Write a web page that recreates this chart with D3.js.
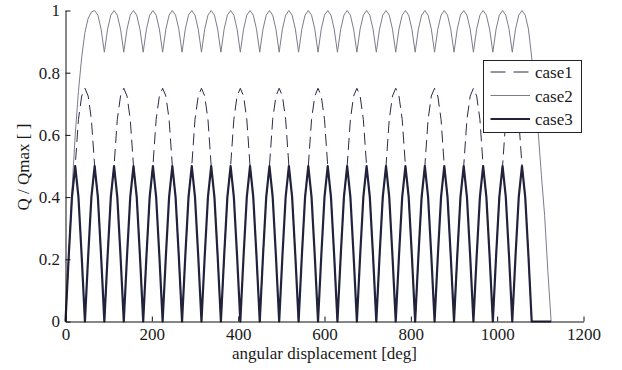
<!DOCTYPE html>
<html>
<head>
<meta charset="utf-8">
<script src="https://cdn.jsdelivr.net/npm/d3@7"></script>
<style>
  html, body { margin: 0; padding: 0; background: #fff; }
  svg { display: block; }
  text { font-family: "Liberation Serif", "Times New Roman", serif; }
</style>
</head>
<body>
<svg id="chart" width="622" height="370"></svg>
<script>
// ---- data ----
// sample positions along the x axis, degrees (every 7.5 deg from 0 to 1125)
const angles = d3.range(0, 1125 + 0.001, 7.5);

const case1 = [
  0,0.21,0.4,0.5,0.65,0.725,0.75,0.725,0.65,0.5,0.4,0.21,
  0,0.21,0.4,0.5,0.65,0.725,0.75,0.725,0.65,0.5,0.4,0.21,
  0,0.21,0.4,0.5,0.65,0.725,0.75,0.725,0.65,0.5,0.4,0.21,
  0,0.21,0.4,0.5,0.65,0.725,0.75,0.725,0.65,0.5,0.4,0.21,
  0,0.21,0.4,0.5,0.65,0.725,0.75,0.725,0.65,0.5,0.4,0.21,
  0,0.21,0.4,0.5,0.65,0.725,0.75,0.725,0.65,0.5,0.4,0.21,
  0,0.21,0.4,0.5,0.65,0.725,0.75,0.725,0.65,0.5,0.4,0.21,
  0,0.21,0.4,0.5,0.65,0.725,0.75,0.725,0.65,0.5,0.4,0.21,
  0,0.21,0.4,0.5,0.65,0.725,0.75,0.725,0.65,0.5,0.4,0.21,
  0,0.21,0.4,0.5,0.65,0.725,0.75,0.725,0.65,0.5,0.4,0.21,
  0,0.21,0.4,0.5,0.65,0.725,0.75,0.725,0.65,0.5,0.4,0.21,
  0,0.21,0.4,0.5,0.65,0.725,0.75,0.725,0.65,0.5,0.4,0.21,
  0,0,0,0,0,0,0
];

const case2 = [
  0,0.21,0.42,0.6,0.74,0.85,0.93,0.975,0.995,1,0.985,0.94,0.866,
  0.94,0.985,1,0.985,0.94,0.866,
  0.94,0.985,1,0.985,0.94,0.866,
  0.94,0.985,1,0.985,0.94,0.866,
  0.94,0.985,1,0.985,0.94,0.866,
  0.94,0.985,1,0.985,0.94,0.866,
  0.94,0.985,1,0.985,0.94,0.866,
  0.94,0.985,1,0.985,0.94,0.866,
  0.94,0.985,1,0.985,0.94,0.866,
  0.94,0.985,1,0.985,0.94,0.866,
  0.94,0.985,1,0.985,0.94,0.866,
  0.94,0.985,1,0.985,0.94,0.866,
  0.94,0.985,1,0.985,0.94,0.866,
  0.94,0.985,1,0.985,0.94,0.866,
  0.94,0.985,1,0.985,0.94,0.866,
  0.94,0.985,1,0.985,0.94,0.866,
  0.94,0.985,1,0.985,0.94,0.866,
  0.94,0.985,1,0.985,0.94,0.866,
  0.94,0.985,1,0.985,0.94,0.866,
  0.94,0.985,1,0.985,0.94,0.866,
  0.94,0.985,1,0.985,0.94,0.866,
  0.94,0.985,1,0.985,0.94,0.866,
  0.94,0.985,1,0.985,0.94,
  0.85,0.73,0.61,0.47,0.34,0.16,0
];

const case3 = [
  0,0.21,0.4,0.5,0.4,0.21, 0,0.21,0.4,0.5,0.4,0.21,
  0,0.21,0.4,0.5,0.4,0.21, 0,0.21,0.4,0.5,0.4,0.21,
  0,0.21,0.4,0.5,0.4,0.21, 0,0.21,0.4,0.5,0.4,0.21,
  0,0.21,0.4,0.5,0.4,0.21, 0,0.21,0.4,0.5,0.4,0.21,
  0,0.21,0.4,0.5,0.4,0.21, 0,0.21,0.4,0.5,0.4,0.21,
  0,0.21,0.4,0.5,0.4,0.21, 0,0.21,0.4,0.5,0.4,0.21,
  0,0.21,0.4,0.5,0.4,0.21, 0,0.21,0.4,0.5,0.4,0.21,
  0,0.21,0.4,0.5,0.4,0.21, 0,0.21,0.4,0.5,0.4,0.21,
  0,0.21,0.4,0.5,0.4,0.21, 0,0.21,0.4,0.5,0.4,0.21,
  0,0.21,0.4,0.5,0.4,0.21, 0,0.21,0.4,0.5,0.4,0.21,
  0,0.21,0.4,0.5,0.4,0.21, 0,0.21,0.4,0.5,0.4,0.21,
  0,0.21,0.4,0.5,0.4,0.21, 0,0.21,0.4,0.5,0.4,0.21,
  0,0,0,0,0,0,0
];

const seriesNames = ["case1", "case2", "case3"];
const xTicks = [0, 200, 400, 600, 800, 1000, 1200];
const xTickLabels = ["0", "200", "400", "600", "800", "1000", "1200"];
const yTicks = [0, 0.2, 0.4, 0.6, 0.8, 1];
const yTickLabels = ["0", "0.2", "0.4", "0.6", "0.8", "1"];
const xTitle = "angular displacement [deg]";
const yTitle = "Q / Qmax [ ]";

// ---- styles ----
const styles = {
  case1: { stroke: "#2b2b46", width: 1, dash: "12,6" },
  case2: { stroke: "#7c7c8c", width: 1, dash: null },
  case3: { stroke: "#22223c", width: 2.2, dash: null }
};

const svg = d3.select("#chart");
const x = d3.scaleLinear().domain([0, 1200]).range([65.5, 583.5]);
const y = d3.scaleLinear().domain([0, 1]).range([321.5, 10.5]);

const line = d3.line()
  .x(d => x(d[0]))
  .y(d => y(d[1]))
  .curve(d3.curveLinear);

const dataBy = { case1, case2, case3 };

seriesNames.forEach(name => {
  const vals = dataBy[name];
  const pts = angles.map((a, i) => [a, vals[i]]);
  const st = styles[name];
  svg.append("path")
    .datum(pts)
    .attr("d", line)
    .attr("fill", "none")
    .attr("stroke", st.stroke)
    .attr("stroke-width", st.width)
    .attr("stroke-linejoin", "round")
    .attr("stroke-dasharray", st.dash);
});

// axes
const xAxis = d3.axisBottom(x)
  .tickValues(xTicks)
  .tickFormat((d, i) => xTickLabels[i])
  .tickSizeInner(-5).tickSizeOuter(0).tickPadding(6.5);
const yAxis = d3.axisLeft(y)
  .tickValues(yTicks)
  .tickFormat((d, i) => yTickLabels[i])
  .tickSizeInner(-5).tickSizeOuter(0).tickPadding(5.5);

const gx = svg.append("g").attr("transform", "translate(0,321.5)").call(xAxis);
const gy = svg.append("g").attr("transform", "translate(65.5,0)").call(yAxis);
[gx, gy].forEach(g => {
  g.attr("font-family", null).attr("font-size", null);
  g.selectAll("text").attr("font-size", 17).attr("fill", "#1a1a1a")
    .style("font-family", "'Liberation Serif', serif");
  g.selectAll("path, line").attr("stroke", "#111");
});

svg.append("text")
  .attr("x", 324.5).attr("y", 359)
  .attr("text-anchor", "middle")
  .attr("font-size", 17).attr("fill", "#1a1a1a")
  .text(xTitle);

svg.append("text")
  .attr("transform", "translate(29,167) rotate(-90)")
  .attr("text-anchor", "middle")
  .attr("font-size", 17).attr("fill", "#1a1a1a")
  .text(yTitle);

// legend
const lg = svg.append("g");
lg.append("rect")
  .attr("x", 483.5).attr("y", 60.5).attr("width", 98).attr("height", 72)
  .attr("fill", "#fff").attr("stroke", "#222").attr("stroke-width", 1);
const legendY = [72, 95.5, 119];
seriesNames.forEach((name, i) => {
  const st = styles[name];
  lg.append("line")
    .attr("x1", 490.5).attr("x2", 530).attr("y1", legendY[i]).attr("y2", legendY[i])
    .attr("stroke", st.stroke).attr("stroke-width", st.width)
    .attr("stroke-dasharray", st.dash ? "15,8" : null);
  lg.append("text")
    .attr("x", 535).attr("y", legendY[i] + 6)
    .attr("font-size", 17).attr("fill", "#1a1a1a")
    .text(name);
});
</script>
</body>
</html>
